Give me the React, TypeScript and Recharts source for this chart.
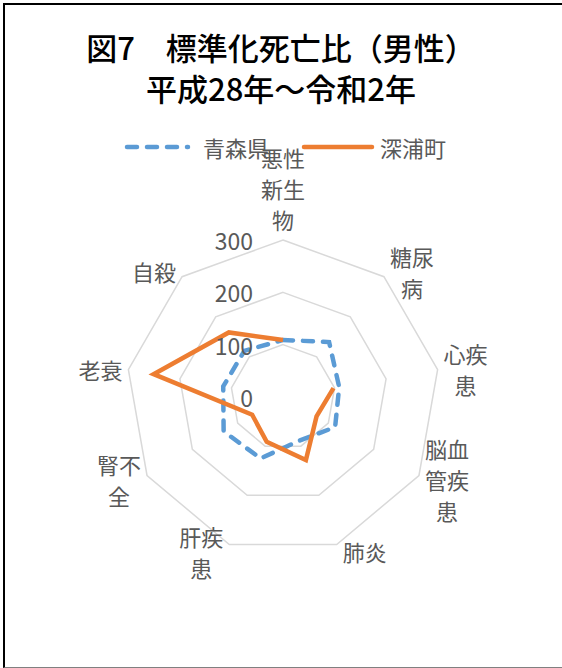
import { RadarChart, PolarGrid, PolarAngleAxis, PolarRadiusAxis, Radar } from 'recharts';

// 標準化死亡比（男性） 平成28年～令和2年
const categories = ['悪性新生物', '糖尿病', '心疾患', '脳血管疾患', '肺炎', '肝疾患', '腎不全', '老衰', '自殺'];
const aomori = [109, 137, 109, 115, 89, 125, 131, 116, 115];
// 深浦町の糖尿病は欠損（線が途切れる）
const fukaura = [109, null, 98, 74, 128, 91, 68, 251, 161];
const radiusTicks = [0, 100, 200, 300];

const data = categories.map((name, i) => ({ name, aomori: aomori[i], fukaura: fukaura[i] }));

const CX = 283;
const CY = 397;
const R = 157;
const FONT = '"Noto Sans CJK JP", "Noto Sans", sans-serif';
const GRAY = '#595959';
const BLUE = '#5b9bd5';
const ORANGE = '#ed7d31';

const CategoryTick = (props: any) => {
  const { payload } = props;
  const t = ((90 - payload.coordinate) * Math.PI) / 180;
  const s = Math.sin(t);
  const c = Math.cos(t);
  const vx = CX + R * s;
  const vy = CY - R * c;
  const lines: string[] = String(payload.value).match(/.{1,2}/g) || [];
  const lh = 31;
  const w = Math.max(...lines.map((l) => l.length)) * 22;
  const h = lines.length * lh;
  let bx = vx;
  let by = vy;
  if (Math.abs(s) < 0.1) {
    by = vy - (6 + h / 2) * Math.sign(c);
  } else {
    bx = vx + Math.sign(s) * (6 + w / 2);
    by = vy - c * 7;
  }
  return (
    <text textAnchor="middle" dominantBaseline="central" fontSize={22} fill={GRAY} fontFamily={FONT}>
      {lines.map((l, i) => (
        <tspan key={i} x={bx} y={by - h / 2 + lh / 2 + i * lh}>
          {l}
        </tspan>
      ))}
    </text>
  );
};

const RadiusTick = (props: any) => {
  const { x, y, payload } = props;
  return (
    <text x={x - 30} y={y} textAnchor="end" dominantBaseline="central" fontSize={23} fill={GRAY} fontFamily={FONT}>
      {payload.value}
    </text>
  );
};

// 欠損値で線を切り、残りは一周つなげる
const GapShape = (props: any) => {
  const pts: any[] = props.points || [];
  const n = pts.length;
  const bad = (p: any) => p.value == null || !isFinite(p.x) || !isFinite(p.y);
  const start = pts.findIndex(bad);
  let d = '';
  if (start < 0) {
    d = pts.map((p, i) => `${i ? 'L' : 'M'}${p.x},${p.y}`).join('') + 'Z';
  } else {
    let pen = false;
    for (let k = 1; k <= n; k++) {
      const p = pts[(start + k) % n];
      if (bad(p)) {
        pen = false;
        continue;
      }
      d += `${pen ? 'L' : 'M'}${p.x},${p.y}`;
      pen = true;
    }
  }
  return <path d={d} fill="none" stroke={props.stroke} strokeWidth={props.strokeWidth} strokeDasharray={props.strokeDasharray} strokeLinecap={props.strokeLinecap} />;
};

export default function App() {
  return (
    <div style={{ position: 'absolute', left: 0, top: 0, width: 562, height: 668, background: '#fff', overflow: 'hidden', fontFamily: FONT }}>
      <div style={{ position: 'absolute', left: 3, top: 3, width: 600, height: 662, borderLeft: '2.5px solid #000', borderTop: '2.5px solid #000', borderBottom: '1px solid #808080' }} />
      <div style={{ position: 'absolute', left: 0, top: 26, width: 562, textAlign: 'center', fontSize: 31, fontWeight: 500, lineHeight: '41px', color: '#000' }}>
        <div>図7　標準化死亡比（男性）</div>
        <div>平成28年～令和2年</div>
      </div>
      <svg style={{ position: 'absolute', left: 0, top: 0 }} width={562} height={200}>
        <line x1={127} y1={147} x2={188} y2={147} stroke={BLUE} strokeWidth={4.5} strokeDasharray="10 10" strokeLinecap="round" />
        <text x={203} y={147} dominantBaseline="central" fontSize={22} fill={GRAY} fontFamily={FONT}>青森県</text>
        <line x1={304} y1={147} x2={372} y2={147} stroke={ORANGE} strokeWidth={4.5} strokeLinecap="round" />
        <text x={380} y={147} dominantBaseline="central" fontSize={22} fill={GRAY} fontFamily={FONT}>深浦町</text>
      </svg>
      <div style={{ position: 'absolute', left: 0, top: 0 }}>
        <RadarChart width={562} height={668} data={data} cx={CX} cy={CY} outerRadius={R} margin={{ top: 0, right: 0, bottom: 0, left: 0 }}>
          <PolarGrid gridType="polygon" radialLines={false} stroke="#d9d9d9" strokeWidth={1.5} />
          <PolarAngleAxis dataKey="name" tick={<CategoryTick />} tickLine={false} axisLine={false} />
          <PolarRadiusAxis angle={90} domain={[0, 300]} ticks={radiusTicks} tickCount={4} axisLine={false} tickLine={false} tick={<RadiusTick />} />
          <Radar dataKey="aomori" name="青森県" stroke={BLUE} strokeWidth={4.5} strokeDasharray="10 10" strokeLinecap="round" fill="none" fillOpacity={0} dot={false} isAnimationActive={false} />
          <Radar dataKey="fukaura" name="深浦町" stroke={ORANGE} strokeWidth={4.5} fill="none" fillOpacity={0} dot={false} shape={GapShape} isAnimationActive={false} />
        </RadarChart>
      </div>
    </div>
  );
}
